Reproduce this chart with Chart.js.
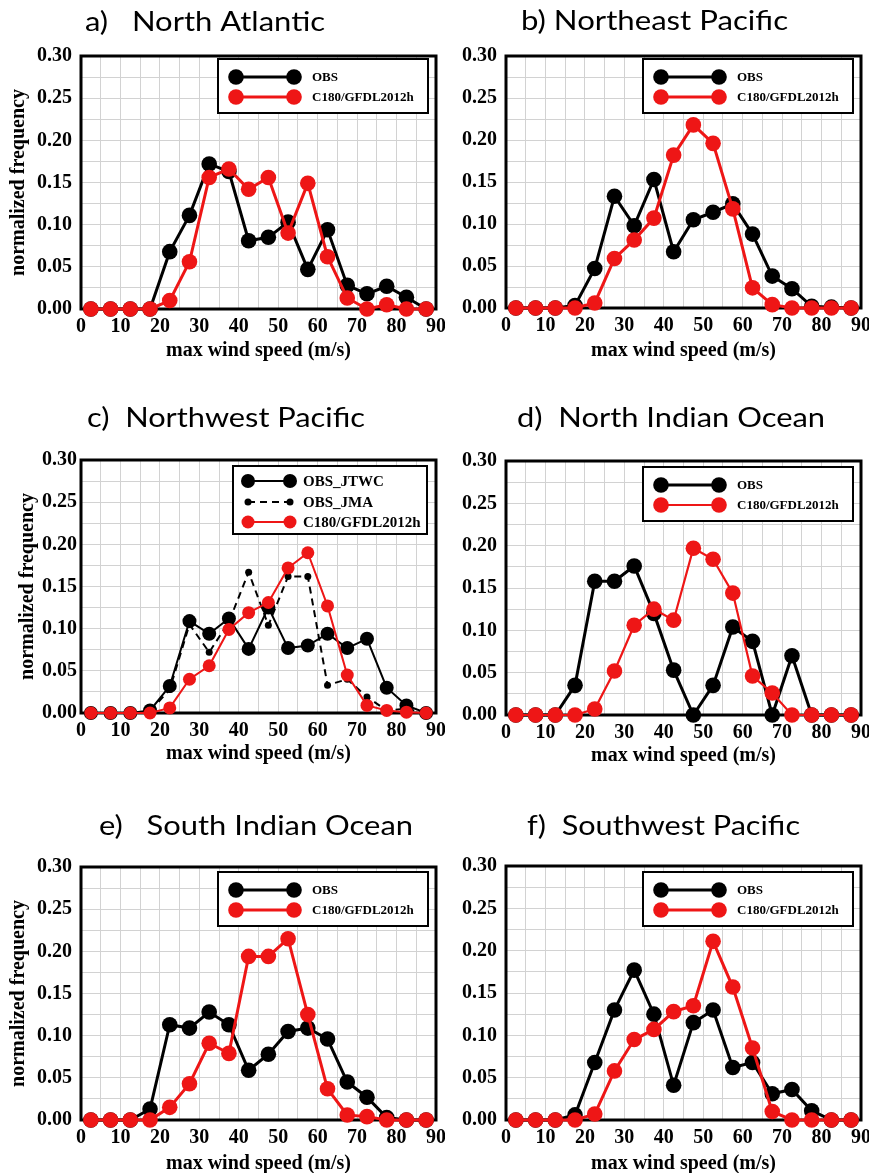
<!DOCTYPE html>
<html><head><meta charset="utf-8">
<script src="https://cdn.jsdelivr.net/npm/chart.js@4/dist/chart.umd.min.js"></script>
<style>
html,body{margin:0;padding:0;background:#fff;overflow:hidden;width:869px;height:1173px;position:relative;}
canvas{position:absolute;}
</style></head><body>
<script>
// ---------------- data ----------------
const windBins = [2.5, 7.5, 12.5, 17.5, 22.5, 27.5, 32.5, 37.5, 42.5, 47.5, 52.5, 57.5, 62.5, 67.5, 72.5, 77.5, 82.5, 87.5];
const xTickLabels = ['0','10','20','30','40','50','60','70','80','90'];
const yTickLabels = ['0.00','0.05','0.10','0.15','0.20','0.25','0.30'];
const panelTitles = ['a)   North Atlantic','b) Northeast Pacific','c)  Northwest Pacific','d)  North Indian Ocean','e)   South Indian Ocean','f)  Southwest Pacific'];
const seriesNames = ['OBS','C180/GFDL2012h','OBS_JTWC','OBS_JMA'];

const naObs  = [0,0,0,0,0.068,0.111,0.172,0.163,0.081,0.085,0.103,0.047,0.094,0.028,0.018,0.027,0.014,0];
const naMod  = [0,0,0,0,0.010,0.056,0.156,0.166,0.142,0.156,0.090,0.149,0.062,0.013,0,0.005,0,0];
const nepObs = [0,0,0,0.003,0.047,0.133,0.098,0.153,0.067,0.105,0.114,0.124,0.088,0.038,0.023,0.002,0.001,0];
const nepMod = [0,0,0,0,0.006,0.059,0.081,0.107,0.182,0.218,0.196,0.118,0.024,0.004,0,0,0,0];
const wpJtwc = [0,0,0,0.003,0.032,0.109,0.094,0.112,0.076,0.125,0.077,0.080,0.094,0.077,0.088,0.030,0.009,0];
const wpJma  = [0,0,0,0.002,0.028,0.105,0.072,0.108,0.167,0.104,0.162,0.162,0.033,0.040,0.019,0.003,0.005,0];
const wpMod  = [0,0,0,0,0.006,0.040,0.056,0.099,0.119,0.131,0.172,0.190,0.127,0.045,0.009,0.003,0.001,0];
const niObs  = [0,0,0,0.035,0.158,0.158,0.176,0.120,0.053,0,0.035,0.104,0.087,0,0.070,0,0,0];
const niMod  = [0,0,0,0,0.007,0.052,0.106,0.125,0.112,0.197,0.184,0.144,0.046,0.026,0,0,0,0];
const siObs  = [0,0,0,0.013,0.113,0.109,0.128,0.113,0.059,0.078,0.105,0.109,0.096,0.045,0.027,0.003,0,0];
const siMod  = [0,0,0,0,0.015,0.043,0.091,0.079,0.194,0.194,0.215,0.125,0.037,0.006,0.004,0,0,0];
const spObs  = [0,0,0,0.006,0.068,0.130,0.177,0.125,0.041,0.115,0.130,0.062,0.068,0.031,0.036,0.011,0,0];
const spMod  = [0,0,0,0,0.007,0.058,0.095,0.107,0.128,0.135,0.211,0.157,0.085,0.010,0,0,0,0];

// ---------------- styling ----------------
const RED = 'rgb(238,22,22)';
const BLACK = '#000';
const SERIF = "'Liberation Serif','Times New Roman',serif";

function pts(vals){ return vals.map((v,i)=>({x: windBins[i], y: v})); }
function ds(label, vals, color, lw, r, order, extra){
  return Object.assign({label, data: pts(vals), borderColor: color, backgroundColor: color,
    pointBackgroundColor: color, pointBorderWidth: 0, pointRadius: r, pointHoverRadius: r,
    borderWidth: lw, tension: 0, clip: false, order}, extra||{});
}

const stdLegend = {x:137, w:210, h:54, rows:[18,38], x1:18, x2:76, tx:94, font:'bold 13px '+SERIF};
const panels = [
  {left:0, top:0, width:445, height:375, chartL:81, chartT:56, chartW:355, chartH:253, yTitle:true, yTickPad:9, yTitlePad:6.5, xTitleOff:41.5,
   titleX:85, titleBase:31, titleW:240, legend:Object.assign({y:3}, stdLegend), legendOrder:[1,0],
   datasets:[ds(seriesNames[1], naMod, RED, 3, 7.8, 0), ds(seriesNames[0], naObs, BLACK, 3, 7.8, 1)]},
  {left:425, top:0, width:444, height:375, chartL:506, chartT:56, chartW:355, chartH:252, yTitle:false, yTickPad:9, yTitlePad:6.5, xTitleOff:42.5,
   titleX:521, titleBase:30, titleW:267, legend:Object.assign({y:3}, stdLegend), legendOrder:[1,0],
   datasets:[ds(seriesNames[1], nepMod, RED, 3, 7.8, 0), ds(seriesNames[0], nepObs, BLACK, 3, 7.8, 1)]},
  {left:0, top:395, width:445, height:390, chartL:81, chartT:460, chartW:355, chartH:253, yTitle:true, yTickPad:4, yTitlePad:15.5, xTitleOff:40.5,
   titleX:87, titleBase:427, titleW:278, legend:{x:152, y:6, w:194, h:68, rows:[15,36,56], x1:15, x2:57, tx:70, font:'bold 15px '+SERIF}, legendOrder:[1,2,0],
   datasets:[ds(seriesNames[1], wpMod, RED, 2, 6.5, 0), ds(seriesNames[2], wpJtwc, BLACK, 2, 7, 2),
             ds(seriesNames[3], wpJma, BLACK, 2, 3.5, 1, {borderDash:[7,5]})]},
  {left:425, top:395, width:444, height:390, chartL:506, chartT:461, chartW:355, chartH:254, yTitle:false, yTickPad:9, yTitlePad:6.5, xTitleOff:41,
   titleX:517, titleBase:427, titleW:308, legend:Object.assign({y:6}, stdLegend), legendOrder:[1,0],
   datasets:[ds(seriesNames[1], niMod, RED, 2.2, 7.8, 0), ds(seriesNames[0], niObs, BLACK, 3, 7.8, 1)]},
  {left:0, top:800, width:445, height:390, chartL:81, chartT:867, chartW:355, chartH:253, yTitle:true, yTickPad:9, yTitlePad:6.5, xTitleOff:44,
   titleX:99, titleBase:835, titleW:314, legend:Object.assign({y:5}, stdLegend), legendOrder:[1,0],
   datasets:[ds(seriesNames[1], siMod, RED, 3, 7.8, 0), ds(seriesNames[0], siObs, BLACK, 3, 7.8, 1)]},
  {left:425, top:800, width:444, height:390, chartL:506, chartT:866, chartW:355, chartH:254, yTitle:false, yTickPad:9, yTitlePad:6.5, xTitleOff:43.5,
   titleX:527, titleBase:835, titleW:273, legend:Object.assign({y:6}, stdLegend), legendOrder:[1,0],
   datasets:[ds(seriesNames[1], spMod, RED, 3, 7.8, 0), ds(seriesNames[0], spObs, BLACK, 3, 7.8, 1)]}
];

// ---------------- plugins ----------------
const frameAndLegend = {
  id: 'frameAndLegend',
  beforeDatasetsDraw(chart){
    const {ctx, chartArea:a} = chart;
    ctx.save();
    ctx.strokeStyle = '#000'; ctx.lineWidth = 3;
    ctx.strokeRect(a.left, a.top, a.right - a.left, a.bottom - a.top);
    ctx.restore();
  },
  afterDatasetsDraw(chart){
    const p = chart.canvas.panelCfg; if (!p) return;
    const {ctx, chartArea:a} = chart;
    const L = p.legend;
    const bx = a.left + L.x, by = a.top + L.y;
    ctx.save();
    ctx.fillStyle = '#fff'; ctx.fillRect(bx, by, L.w, L.h);
    ctx.strokeStyle = '#000'; ctx.lineWidth = 2; ctx.strokeRect(bx, by, L.w, L.h);
    p.legendOrder.forEach((di, k) => {
      const d = chart.data.datasets[di];
      const yy = by + L.rows[k];
      ctx.strokeStyle = d.borderColor; ctx.lineWidth = d.borderWidth;
      ctx.setLineDash(d.borderDash || []);
      ctx.beginPath(); ctx.moveTo(bx + L.x1, yy); ctx.lineTo(bx + L.x2, yy); ctx.stroke();
      ctx.setLineDash([]);
      ctx.fillStyle = d.pointBackgroundColor;
      [L.x1, L.x2].forEach(px => { ctx.beginPath(); ctx.arc(bx + px, yy, d.pointRadius, 0, Math.PI*2); ctx.fill(); });
      ctx.fillStyle = '#000'; ctx.font = L.font; ctx.textBaseline = 'middle'; ctx.textAlign = 'left';
      ctx.fillText(d.label, bx + L.tx, yy + 1);
    });
    ctx.restore();
    // panel title: cap height matched, width fitted by horizontal scaling
    ctx.save();
    ctx.font = '27px Lato';
    const w = ctx.measureText(p.title).width;
    ctx.translate(p.titleX - p.left, p.titleBase - p.top);
    ctx.scale(p.titleW / w, 1);
    ctx.fillStyle = '#000'; ctx.textBaseline = 'alphabetic'; ctx.textAlign = 'left';
    ctx.fillText(p.title, 0, 0);
    ctx.restore();
  }
};

// ---------------- build ----------------
panels.forEach((p, idx) => {
  p.title = panelTitles[idx];
  const cv = document.createElement('canvas');
  cv.width = p.width; cv.height = p.height;
  cv.style.left = p.left + 'px'; cv.style.top = p.top + 'px';
  cv.style.width = p.width + 'px'; cv.style.height = p.height + 'px';
  cv.panelCfg = p;
  document.body.appendChild(cv);
  const padTop = p.chartT - p.top;
  const yW = p.chartL - p.left;
  const padRight = p.width - yW - p.chartW;
  const xH = p.height - padTop - p.chartH;
  const xTitlePadBottom = xH - p.xTitleOff - 12;
  const tickFont = {family: SERIF, size: 20, weight: 'bold', lineHeight: 1.2};
  new Chart(cv, {
    type: 'line',
    data: {datasets: p.datasets},
    options: {
      responsive: false, animation: false, events: [],
      layout: {padding: {left: 0, top: padTop, right: padRight, bottom: 0}},
      plugins: {legend: {display: false}, tooltip: {enabled: false}, title: {display: false}},
      scales: {
        x: {type: 'linear', min: 0, max: 90,
          grid: {color: '#d2d2d2', lineWidth: 1, drawTicks: false},
          border: {display: false},
          ticks: {stepSize: 5, autoSkip: false, maxRotation: 0, minRotation: 0, padding: 6, color: '#000', font: tickFont,
            callback: v => (Math.round(v) % 10 === 0 ? xTickLabels[Math.round(v) / 10] : '')},
          title: {display: true, text: 'max wind speed (m/s)', color: '#000', font: tickFont, padding: {top: 0, bottom: xTitlePadBottom}},
          afterFit: s => { s.height = xH; s.paddingLeft = 0; s.paddingRight = 0; }
        },
        y: {type: 'linear', min: 0, max: 0.30,
          grid: {color: '#d2d2d2', lineWidth: 1, drawTicks: false},
          border: {display: false},
          ticks: {stepSize: 0.025, autoSkip: false, padding: p.yTickPad, color: '#000', font: tickFont,
            callback: v => { const k = Math.round(v * 1000); return k % 50 === 0 ? yTickLabels[k / 50] : ''; }},
          title: {display: p.yTitle, text: 'normalized frequency', color: '#000', font: tickFont, padding: {top: p.yTitlePad, bottom: 0}},
          afterFit: s => { s.width = yW; s.paddingTop = 0; s.paddingBottom = 0; }
        }
      }
    },
    plugins: [frameAndLegend]
  });
});
</script>
</body></html>
